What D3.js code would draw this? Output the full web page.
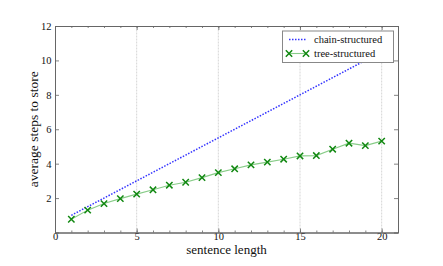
<!DOCTYPE html>
<html>
<head>
<meta charset="utf-8">
<script src="https://cdn.jsdelivr.net/npm/d3@7"></script>
<style>
  body { margin: 0; background: #fff; }
</style>
</head>
<body>
<svg></svg>
<script>
let lengths = [1, 2, 3, 4, 5, 6, 7, 8, 9, 10, 11, 12, 13, 14, 15, 16, 17, 18, 19, 20];
let chainSteps = [1, 1.5, 2, 2.5, 3, 3.5, 4, 4.5, 5, 5.5, 6, 6.5, 7, 7.5, 8, 8.5, 9, 9.5, 10, 10.5];
let treeSteps = [0.77, 1.3, 1.68, 1.97, 2.23, 2.48, 2.75, 2.92, 3.19, 3.48, 3.7, 3.93, 4.09, 4.26,
                 4.45, 4.47, 4.84, 5.19, 5.05, 5.31];
let xTicks = [0, 5, 10, 15, 20];
let yTicks = [2, 4, 6, 8, 10, 12];
let seriesNames = ['chain-structured', 'tree-structured'];

let width = 443;
let height = 266;
let margin = {left: 55, right: 45, top: 26, bottom: 33.5};
let serif = '"Liberation Serif", "DejaVu Serif", serif';

let svg = d3.select('svg')
    .attr('width', width)
    .attr('height', height)
    .attr('font-family', serif);

let x = d3.scaleLinear()
    .domain([0, 21])
    .range([margin.left, width - margin.right]);

let y = d3.scaleLinear()
    .domain([0, 12])
    .range([height - margin.bottom, margin.top]);

let spine = '#666';

// vertical grid lines
svg.append('g')
    .selectAll('line')
    .data(xTicks.slice(1))
    .enter()
    .append('line')
        .attr('x1', d => x(d))
        .attr('x2', d => x(d))
        .attr('y1', y(0))
        .attr('y2', y(12))
        .attr('stroke', '#ccc')
        .attr('stroke-width', 0.8)
        .attr('stroke-dasharray', '2,1');

// axes, ticks pointing inward
let axisB = svg.append('g')
    .attr('transform', `translate(0 ${y(0)})`)
    .call(d3.axisBottom(x).tickValues(xTicks).tickSize(-4).tickPadding(0.4));
let axisBMinor = svg.append('g')
    .attr('transform', `translate(0 ${y(0)})`)
    .call(d3.axisBottom(x).tickValues(d3.range(0, 22)).tickSize(-2).tickFormat(''));
let axisT = svg.append('g')
    .attr('transform', `translate(0 ${y(12)})`)
    .call(d3.axisTop(x).tickValues(xTicks).tickSize(-4).tickFormat(''));
let axisTMinor = svg.append('g')
    .attr('transform', `translate(0 ${y(12)})`)
    .call(d3.axisTop(x).tickValues(d3.range(0, 22)).tickSize(-2).tickFormat(''));
let axisL = svg.append('g')
    .attr('transform', `translate(${x(0)} 0)`)
    .call(d3.axisLeft(y).tickValues(yTicks).tickSize(-4).tickPadding(3.5));
let axisR = svg.append('g')
    .attr('transform', `translate(${x(21)} 0)`)
    .call(d3.axisRight(y).tickValues(yTicks).tickSize(-4).tickFormat(''));

[axisB, axisBMinor, axisT, axisTMinor, axisL, axisR].forEach(g => {
    g.attr('font-family', serif).attr('font-size', 10.5);
    g.select('.domain').attr('stroke', spine).attr('stroke-width', 1);
    g.selectAll('.tick line').attr('stroke', spine).attr('stroke-width', 0.8);
    g.selectAll('.tick text').attr('fill', '#111');
});

// chain-structured series
svg.append('path')
    .datum(lengths.map((d, i) => [d, chainSteps[i]]))
    .attr('fill', 'none')
    .attr('stroke', '#3333ff')
    .attr('stroke-width', 1.5)
    .attr('stroke-dasharray', '1.5,1.5')
    .attr('d', d3.line().x(d => x(d[0])).y(d => y(d[1])));

// tree-structured series
let treePts = lengths.map((d, i) => [d, treeSteps[i]]);
svg.append('path')
    .datum(treePts)
    .attr('fill', 'none')
    .attr('stroke', '#88cc88')
    .attr('stroke-width', 1.1)
    .attr('d', d3.line().x(d => x(d[0])).y(d => y(d[1])));

let cross = d3.symbol().type(d3.symbolX).size(28);
svg.append('g')
    .selectAll('path')
    .data(treePts)
    .enter()
    .append('path')
        .attr('transform', d => `translate(${x(d[0])} ${y(d[1])})`)
        .attr('d', cross)
        .attr('fill', 'none')
        .attr('stroke', '#118811')
        .attr('stroke-width', 1.5);

// legend
let legend = svg.append('g');
legend.append('rect')
    .attr('x', 282.5)
    .attr('y', 31)
    .attr('width', 111)
    .attr('height', 31.5)
    .attr('fill', '#fff')
    .attr('stroke', '#888')
    .attr('stroke-width', 1);

legend.append('line')
    .attr('x1', 289).attr('x2', 306)
    .attr('y1', 39.5).attr('y2', 39.5)
    .attr('stroke', '#3333ff')
    .attr('stroke-width', 1.5)
    .attr('stroke-dasharray', '1.5,1.5');

legend.append('line')
    .attr('x1', 289).attr('x2', 306)
    .attr('y1', 53.5).attr('y2', 53.5)
    .attr('stroke', '#88cc88')
    .attr('stroke-width', 1.1);

legend.selectAll('.lm')
    .data([289, 306])
    .enter()
    .append('path')
        .attr('transform', d => `translate(${d} 53.5)`)
        .attr('d', cross)
        .attr('fill', 'none')
        .attr('stroke', '#118811')
        .attr('stroke-width', 1.5);

legend.selectAll('.lt')
    .data(seriesNames)
    .enter()
    .append('text')
        .attr('x', 314)
        .attr('y', (d, i) => 39.5 + i * 14)
        .attr('dy', '0.35em')
        .attr('font-size', 10.5)
        .attr('fill', '#111')
        .text(d => d);

// axis titles
svg.append('text')
    .attr('x', 226.5)
    .attr('y', 254.3)
    .attr('text-anchor', 'middle')
    .attr('font-size', 13)
    .attr('fill', '#111')
    .text('sentence length');

svg.append('text')
    .attr('transform', `translate(38 ${(y(0) + y(12)) / 2}) rotate(-90)`)
    .attr('text-anchor', 'middle')
    .attr('font-size', 13.5)
    .attr('fill', '#111')
    .text('average steps to store');
</script>
</body>
</html>
